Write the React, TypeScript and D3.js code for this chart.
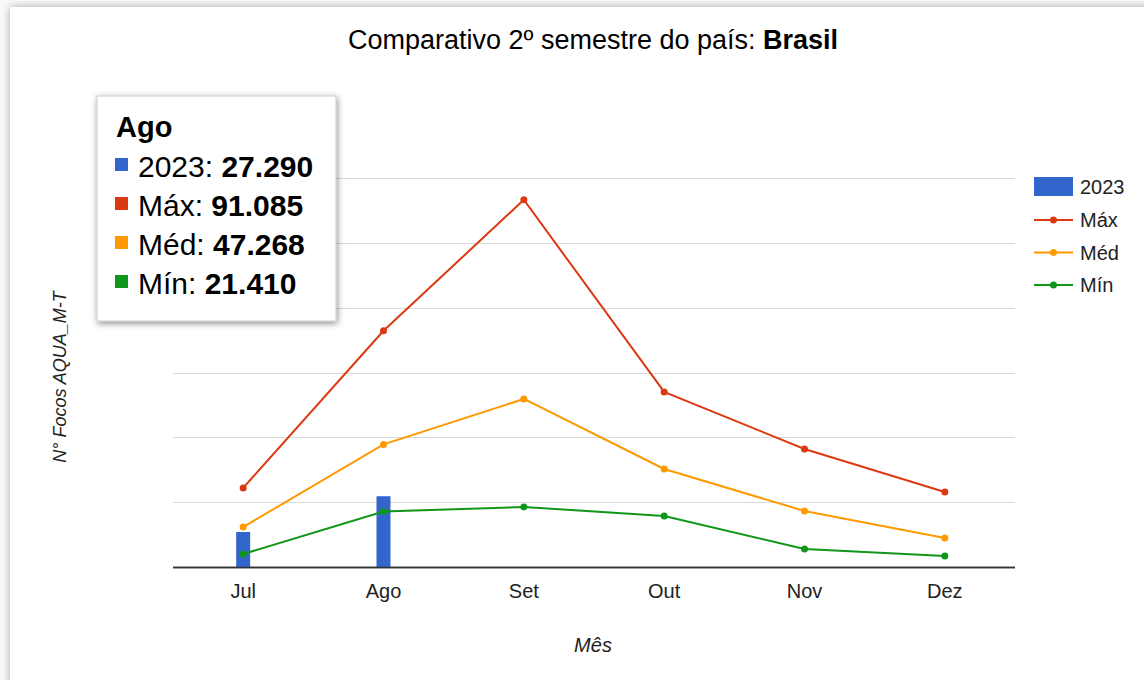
import React from "react";
import * as d3 from "d3";

const months = ["Jul", "Ago", "Set", "Out", "Nov", "Dez"];
const y2023 = [13500, 27290, null, null, null, null];
const maxVals = [30500, 91085, 141600, 67500, 45500, 28900];
const medVals = [15400, 47268, 64800, 37800, 21600, 11200];
const minVals = [5000, 21410, 23150, 19700, 6950, 4240];
const gridTicks = [0, 25000, 50000, 75000, 100000, 125000, 150000];

const seriesNames = ["2023", "Máx", "Méd", "Mín"];
const colors = ["#3366cc", "#dc3912", "#ff9900", "#109618"];
const tooltipValues = ["27.290", "91.085", "47.268", "21.410"];

const W = 1144;
const H = 680;
const FONT = "Arial, 'Liberation Sans', sans-serif";

export default function App() {
  const x = d3.scaleBand<string>().domain(months).range([173, 1015]);
  const y = d3.scaleLinear().domain([0, 150000]).range([567, 178]);
  const cx = (m: string) => (x(m) as number) + x.bandwidth() / 2;
  const line = d3
    .line<number>()
    .x((_, i) => cx(months[i]))
    .y((d) => y(d));
  const lineSeries = [maxVals, medVals, minVals];
  const barW = 14;

  return (
    <div style={{ position: "absolute", left: 0, top: 0, width: W, height: H, background: "#fff" }}>
      <svg width={W} height={H} style={{ display: "block" }}>
        <defs>
          <filter id="cardShadow" x="-5%" y="-5%" width="110%" height="110%">
            <feDropShadow dx="0" dy="0" stdDeviation="4" floodColor="#000" floodOpacity="0.35" />
          </filter>
          <filter id="tipShadow" x="-10%" y="-10%" width="125%" height="125%">
            <feDropShadow dx="1" dy="2" stdDeviation="3" floodColor="#000" floodOpacity="0.45" />
          </filter>
        </defs>
        <rect x={0} y={0} width={W} height={H} fill="#fafafa" />
        <rect x={10} y={7} width={W + 20} height={H + 20} fill="#fff" filter="url(#cardShadow)" />

        {/* title */}
        <text x={593} y={49} textAnchor="middle" fontFamily={FONT} fontSize={27} fill="#000">
          Comparativo 2º semestre do país: <tspan fontWeight="bold">Brasil</tspan>
        </text>

        {/* gridlines */}
        {gridTicks.map((t) => (
          <line
            key={t}
            x1={173}
            x2={1015}
            y1={Math.round(y(t)) + 0.5}
            y2={Math.round(y(t)) + 0.5}
            stroke={t === 0 ? "#333" : "#d9d9d9"}
            strokeWidth={t === 0 ? 1.5 : 1}
          />
        ))}

        {/* bars */}
        {y2023.map((v, i) =>
          v == null ? null : (
            <rect
              key={i}
              x={cx(months[i]) - barW / 2}
              y={y(v)}
              width={barW}
              height={y(0) - y(v)}
              fill={colors[0]}
            />
          )
        )}
        <line x1={173} x2={1015} y1={567.5} y2={567.5} stroke="#333" strokeWidth={1.5} />

        {/* lines */}
        {lineSeries.map((s, k) => (
          <g key={k}>
            <path d={line(s) as string} fill="none" stroke={colors[k + 1]} strokeWidth={2} />
            {s.map((v, i) => (
              <circle key={i} cx={cx(months[i])} cy={y(v)} r={3.5} fill={colors[k + 1]} />
            ))}
          </g>
        ))}

        {/* x tick labels */}
        {months.map((m) => (
          <text key={m} x={cx(m)} y={598} textAnchor="middle" fontFamily={FONT} fontSize={20} fill="#222">
            {m}
          </text>
        ))}
        <text x={593} y={652} textAnchor="middle" fontFamily={FONT} fontSize={20} fontStyle="italic" fill="#222">
          Mês
        </text>
        <text
          transform="translate(66,377) rotate(-90)"
          textAnchor="middle"
          fontFamily={FONT}
          fontSize={18}
          fontStyle="italic"
          fill="#222"
        >
          N° Focos AQUA_M-T
        </text>

        {/* legend */}
        <g fontFamily={FONT} fontSize={20} fill="#222">
          <rect x={1034} y={177} width={39} height={19} fill={colors[0]} />
          <text x={1080} y={194}>{seriesNames[0]}</text>
          {[1, 2, 3].map((k) => {
            const ly = 220 + (k - 1) * 32.5;
            return (
              <g key={k}>
                <line x1={1034} x2={1073} y1={ly} y2={ly} stroke={colors[k]} strokeWidth={2} />
                <circle cx={1053.5} cy={ly} r={3.5} fill={colors[k]} />
                <text x={1080} y={ly + 7}>{seriesNames[k]}</text>
              </g>
            );
          })}
        </g>

        {/* tooltip */}
        <rect x={97} y={96} width={239} height={225} fill="#fff" stroke="#ccc" strokeWidth={1} filter="url(#tipShadow)" />
        <text x={116} y={137} fontFamily={FONT} fontSize={29} fontWeight="bold" fill="#000">
          Ago
        </text>
        {seriesNames.map((n, k) => {
          const by = 177 + k * 39;
          return (
            <g key={n}>
              <rect x={115} y={by - 19} width={13} height={13} fill={colors[k]} />
              <text x={138} y={by} fontFamily={FONT} fontSize={30} fill="#000">
                {n}: <tspan fontWeight="bold">{tooltipValues[k]}</tspan>
              </text>
            </g>
          );
        })}
      </svg>
    </div>
  );
}
